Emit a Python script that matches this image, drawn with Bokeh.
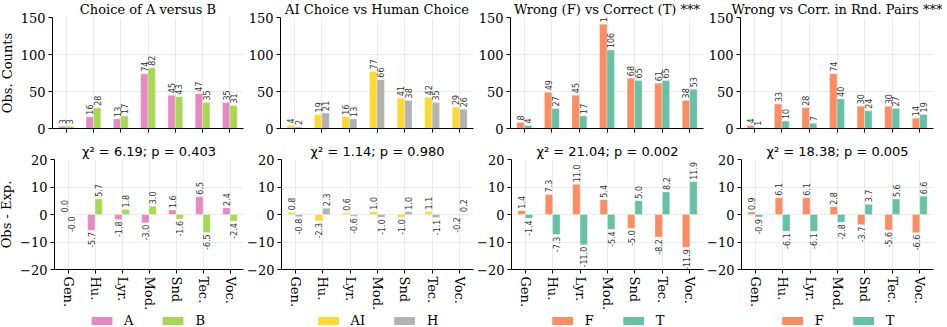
import math
from bokeh.plotting import figure
from bokeh.layouts import column, row
from bokeh.models import (ColumnDataSource, FactorRange, Range1d, FixedTicker,
                          Legend, LegendItem, LabelSet)
from bokeh.transform import dodge
from bokeh.core.properties import value
from bokeh.embed import file_html
from bokeh.resources import INLINE

# ---------------- data ----------------
categories = ["Gen.", "Hu.", "Lyr.", "Mod.", "Snd", "Tec.", "Voc."]

titles = ["Choice of A versus B", "AI Choice vs Human Choice",
          "Wrong (F) vs Correct (T) ***", "Wrong vs Corr. in Rnd. Pairs ***"]
series_names = [("A", "B"), ("AI", "H"), ("F", "T"), ("F", "T")]
series_colors = [("#e78ac3", "#a6d854"), ("#ffd92f", "#b3b3b3"),
                 ("#fc8d62", "#66c2a5"), ("#fc8d62", "#66c2a5")]

counts_A = [3, 16, 13, 74, 45, 47, 35]
counts_B = [3, 28, 17, 82, 43, 35, 31]
counts_AI = [4, 19, 16, 77, 41, 42, 29]
counts_H = [2, 21, 13, 66, 38, 35, 26]
counts_F = [8, 49, 45, 141, 68, 61, 38]
counts_T = [4, 27, 17, 106, 65, 65, 53]
counts_rnd_F = [4, 33, 28, 74, 30, 30, 14]
counts_rnd_T = [1, 10, 7, 40, 24, 27, 19]

resid_A = [0.0, -5.7, -1.8, -3.0, 1.6, 6.5, 2.4]
resid_B = [-0.0, 5.7, 1.8, 3.0, -1.6, -6.5, -2.4]
resid_AI = [0.8, -2.3, 0.6, 1.0, -1.0, 1.1, -0.2]
resid_H = [-0.8, 2.3, -0.6, -1.0, 1.0, -1.1, 0.2]
resid_F = [1.4, 7.3, 11.0, 5.4, -5.0, -8.2, -11.9]
resid_T = [-1.4, -7.3, -11.0, -5.4, 5.0, 8.2, 11.9]
resid_rnd_F = [0.9, 6.1, 6.1, 2.8, -3.7, -5.6, -6.6]
resid_rnd_T = [-0.9, -6.1, -6.1, -2.8, 3.7, 5.6, 6.6]

chi2_values = [6.19, 1.14, 21.04, 18.38]
p_values = [0.403, 0.980, 0.002, 0.005]

count_ticks = [0, 50, 100, 150]
resid_ticks = [-20, -10, 0, 10, 20]

counts = [(counts_A, counts_B), (counts_AI, counts_H),
          (counts_F, counts_T), (counts_rnd_F, counts_rnd_T)]
resids = [(resid_A, resid_B), (resid_AI, resid_H),
          (resid_F, resid_T), (resid_rnd_F, resid_rnd_T)]

# ---------------- style ----------------
SERIF = "DejaVu Serif"
SANS = "DejaVu Sans"
BAR_W = 0.27
FRAME_W = 193
TOP_H = 139      # 20 title + 112 frame + 7 ticks
BOT_H = 177      # 23 title + 112 frame + 42 tick labels
LEG_H = 14


def style(p, ticks, overrides=None):
    p.outline_line_color = None
    p.background_fill_color = "white"
    p.border_fill_color = "white"
    for ax in (p.xaxis[0], p.yaxis[0]):
        ax.axis_line_color = "black"
        ax.axis_line_width = 1
        ax.major_tick_line_color = "black"
        ax.major_tick_out = 4
        ax.major_tick_in = 0
        ax.minor_tick_line_color = None
        ax.major_label_text_font = SERIF
        ax.major_label_text_font_size = "13px"
        ax.major_label_text_color = "black"
        ax.major_label_standoff = 3
        ax.axis_label_text_font = SERIF
        ax.axis_label_text_font_size = "13px"
        ax.axis_label_text_font_style = "normal"
        ax.axis_label_text_color = "black"
        ax.axis_label_standoff = 3
    p.yaxis[0].ticker = FixedTicker(ticks=ticks)
    if overrides:
        p.yaxis[0].major_label_overrides = overrides
    p.xgrid.grid_line_color = "#e6e6e6"
    p.ygrid.grid_line_color = "#e6e6e6"
    p.xgrid.grid_line_width = 0.8
    p.ygrid.grid_line_width = 0.8


def add_bars(p, a_vals, b_vals, colors, fmt):
    for k, (vals, col) in enumerate(zip((a_vals, b_vals), colors)):
        off = -BAR_W / 2 if k == 0 else BAR_W / 2
        neg = [math.copysign(1.0, v) < 0 for v in vals]
        src = ColumnDataSource(dict(
            cat=categories, val=vals,
            lab=[format(v, fmt) for v in vals],
            align=["right" if n else "left" for n in neg],
            yoff=[-2 if n else 2 for n in neg],
        ))
        p.vbar(x=dodge("cat", off, range=p.x_range), top="val", bottom=0,
               width=BAR_W, source=src, fill_color=col,
               line_color="white", line_width=0.5, line_alpha=0.6)
        labels = LabelSet(x=dodge("cat", off, range=p.x_range), y="val",
                          text="lab", source=src, angle=math.pi / 2,
                          text_align="align", text_baseline="middle",
                          y_offset="yoff", text_font=value(SANS),
                          text_font_size="8px", text_color="#333333")
        p.add_layout(labels)


top_figs, bot_figs, leg_figs = [], [], []
for c in range(4):
    left = 54 if c == 0 else 36
    right = 9 if c == 3 else 1
    width = left + FRAME_W + right

    # --- observed counts ---
    p = figure(x_range=FactorRange(*categories), y_range=Range1d(0, 150),
               width=width, height=TOP_H,
               min_border_left=left, min_border_right=right,
               min_border_top=20, min_border_bottom=7,
               output_backend="svg", toolbar_location=None, tools="",
               title=titles[c])
    style(p, count_ticks)
    p.title.align = "center"
    p.title.text_font = SERIF
    p.title.text_font_size = "13px"
    p.title.text_font_style = "normal"
    p.title.text_color = "black"
    p.title.standoff = 2
    p.xaxis[0].major_label_overrides = {k: " " for k in categories}
    p.xaxis[0].major_label_text_font_size = "1px"
    p.xaxis[0].major_label_standoff = 0
    if c == 0:
        p.yaxis[0].axis_label = "Obs. Counts"
    add_bars(p, counts[c][0], counts[c][1], series_colors[c], "d")
    top_figs.append(p)

    # --- residuals ---
    q = figure(x_range=FactorRange(*categories), y_range=Range1d(-20, 20),
               width=width, height=BOT_H,
               min_border_left=left, min_border_right=right,
               min_border_top=23, min_border_bottom=42,
               output_backend="svg", toolbar_location=None, tools="",
               title="χ² = %.2f; p = %.3f" % (chi2_values[c], p_values[c]))
    style(q, resid_ticks, {-20: "−20", -10: "−10"})
    q.title.align = "center"
    q.title.text_font = SANS
    q.title.text_font_size = "13px"
    q.title.text_font_style = "normal"
    q.title.text_color = "black"
    q.title.standoff = 1
    q.xaxis[0].major_label_orientation = "vertical"
    if c == 0:
        q.yaxis[0].axis_label = "Obs - Exp."
    add_bars(q, resids[c][0], resids[c][1], series_colors[c], ".1f")
    bot_figs.append(q)

    # --- legend strip (zero-size proxy glyphs carry the legend swatches) ---
    lf = figure(width=width, height=LEG_H, x_range=Range1d(0, 1),
                y_range=Range1d(0, 1), x_axis_location=None,
                y_axis_location=None, min_border_left=left,
                min_border_right=right, min_border_top=0, min_border_bottom=0,
                output_backend="svg", toolbar_location=None, tools="")
    lf.outline_line_color = None
    lf.xgrid.visible = False
    lf.ygrid.visible = False
    proxies = [lf.vbar(x=[0.5], top=[0], bottom=[0], width=0,
                       fill_color=col, line_color=None)
               for col in series_colors[c]]
    legend = Legend(items=[LegendItem(label=series_names[c][k], renderers=[proxies[k]])
                           for k in range(2)],
                    orientation="horizontal", location="center",
                    glyph_width=26, glyph_height=10, label_height=10,
                    label_width=0, label_standoff=10, spacing=26,
                    padding=0, margin=0,
                    label_text_font=SERIF, label_text_font_size="13px",
                    label_text_color="black",
                    background_fill_alpha=0, border_line_alpha=0)
    lf.add_layout(legend, "center")
    leg_figs.append(lf)

layout = column(row(*top_figs, spacing=0), row(*bot_figs, spacing=0),
                row(*leg_figs, spacing=0), spacing=0)
layout.margin = (-3, 0, 0, -4)

open("out.html", "w").write(file_html(layout, INLINE))
